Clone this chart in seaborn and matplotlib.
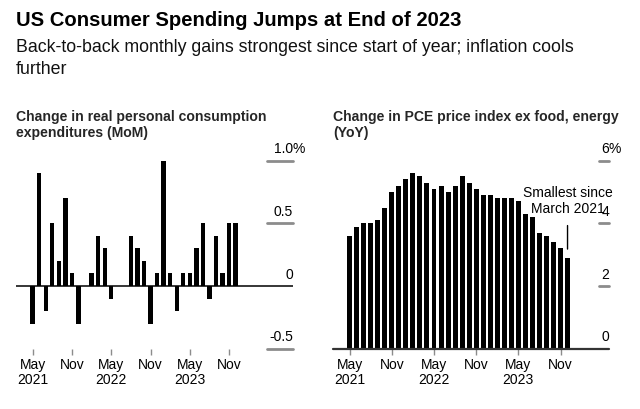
import numpy as np
import pandas as pd
import matplotlib
matplotlib.use("Agg")
import matplotlib.pyplot as plt
import seaborn as sns

# monthly data, May 2021 .. Dec 2023
months = pd.date_range("2021-05-01", "2023-12-01", freq="MS").strftime("%Y-%m")
pce_mom = [-0.3, 0.9, -0.2, 0.5, 0.2, 0.7, 0.1, -0.3, 0.0, 0.1, 0.4, 0.3,
           -0.1, 0.0, 0.0, 0.4, 0.3, 0.2, -0.3, 0.1, 1.0, 0.1, -0.2, 0.1,
           0.1, 0.3, 0.5, -0.1, 0.4, 0.1, 0.5, 0.5]
core_yoy = [3.6, 3.9, 4.0, 4.0, 4.1, 4.5, 5.0, 5.2, 5.4, 5.6, 5.5, 5.3,
            5.1, 5.2, 5.0, 5.2, 5.5, 5.3, 5.1, 4.9, 4.9, 4.8, 4.8, 4.8,
            4.7, 4.3, 4.2, 3.7, 3.6, 3.4, 3.2, 2.9]
tick_pos = [0, 6, 12, 18, 24, 30]
tick_labels = ["May\n2021", "Nov", "May\n2022", "Nov", "May\n2023", "Nov"]
mom_ticks = [-0.5, 0, 0.5, 1.0]
mom_labels = ["-0.5", "0", "0.5", "1.0"]
yoy_ticks = [0, 2, 4, 6]
yoy_labels = ["0", "2", "4", "6"]

df = pd.DataFrame({"month": months, "mom": pce_mom, "yoy": core_yoy})

sns.set_theme(style="white")
plt.rcParams["font.family"] = ["Liberation Sans", "DejaVu Sans"]

W, H = 640, 410
fig = plt.figure(figsize=(6.4, 4.1), dpi=100)


def px_axes(x0, x1, y_top, y_bot):
    return fig.add_axes([x0 / W, 1 - y_bot / H, (x1 - x0) / W, (y_bot - y_top) / H])


def right_labels(ax, ticks, labels, grid_from):
    for v, lab in zip(ticks, labels):
        ax.annotate(lab, xy=(1, v), xycoords=ax.get_yaxis_transform(),
                    xytext=(0, 6), textcoords="offset points",
                    ha="right", va="baseline", fontsize=10, color="black",
                    annotation_clip=False)
        if v != 0:
            ax.axhline(v, xmin=grid_from, xmax=1, color="#8c8c8c", lw=2,
                       clip_on=False, zorder=1)
    # percent sign hanging off the top label
    ax.annotate("%", xy=(1, ticks[-1]), xycoords=ax.get_yaxis_transform(),
                xytext=(-0.3, 6), textcoords="offset points",
                ha="left", va="baseline", fontsize=10, color="black",
                annotation_clip=False)


def style_x(ax):
    ax.set_xticks(tick_pos, tick_labels)
    ax.set_xlabel("")
    ax.set_ylabel("")
    ax.set_yticks([])
    ax.tick_params(axis="x", bottom=True, length=4, width=1, color="#8c8c8c",
                   labelsize=10, pad=2, labelcolor="black")
    for lbl in ax.get_xticklabels():
        lbl.set_linespacing(1.05)
    for s in ax.spines.values():
        s.set_visible(False)


# ---- left: real PCE MoM ----
ax1 = px_axes(16, 293, 161.7, 349.7)
sns.barplot(data=df, x="month", y="mom", color="black", saturation=1,
            width=0.66, errorbar=None, linewidth=0, ax=ax1, zorder=3)
ax1.set_ylim(-0.5, 1.0)
ax1.set_xlim(-2.54, 39.76)
ax1.axhline(0, color="black", lw=1.1, zorder=2)
style_x(ax1)
right_labels(ax1, mom_ticks, mom_labels, 0.905)

# ---- right: core PCE YoY ----
ax2 = px_axes(333, 609, 161.7, 349.7)
sns.barplot(data=df, x="month", y="yoy", color="black", saturation=1,
            width=0.71, errorbar=None, linewidth=0, ax=ax2, zorder=3)
ax2.set_ylim(0, 6)
ax2.set_xlim(-2.37, 36.9)
ax2.axhline(0, color="#333333", lw=1.6, zorder=4, clip_on=False)
style_x(ax2)
right_labels(ax2, yoy_ticks, yoy_labels, 0.964)

last = len(core_yoy) - 1
ax2.annotate("", xy=(last, core_yoy[-1] + 0.28), xytext=(last, core_yoy[-1] + 1.03),
             arrowprops=dict(arrowstyle="-", color="black", lw=1, shrinkA=0, shrinkB=0))
ax2.text(last, core_yoy[-1] + 1.37, "Smallest since\nMarch 2021", ha="center",
         va="bottom", fontsize=10, color="black", linespacing=1.2)

# ---- titles ----
fig.text(16 / W, 1 - 21 / H, "US Consumer Spending Jumps at End of 2023",
         fontsize=14.6, fontweight="bold", va="center", ha="left", color="black")
fig.text(16 / W, 1 - 48 / H,
         "Back-to-back monthly gains strongest since start of year; inflation cools",
         fontsize=12.8, va="center", ha="left", color="#111111")
fig.text(16 / W, 1 - 70 / H, "further", fontsize=12.8, va="center", ha="left",
         color="#111111")
fig.text(16 / W, 1 - 117.5 / H, "Change in real personal consumption",
         fontsize=10.1, fontweight="bold", va="center", ha="left")
fig.text(16 / W, 1 - 133.5 / H, "expenditures (MoM)",
         fontsize=10.1, fontweight="bold", va="center", ha="left")
fig.text(333 / W, 1 - 117.5 / H, "Change in PCE price index ex food, energy",
         fontsize=10.1, fontweight="bold", va="center", ha="left")
fig.text(333 / W, 1 - 133.5 / H, "(YoY)",
         fontsize=10.1, fontweight="bold", va="center", ha="left")

fig.savefig("out.png", dpi=100, facecolor="white")
